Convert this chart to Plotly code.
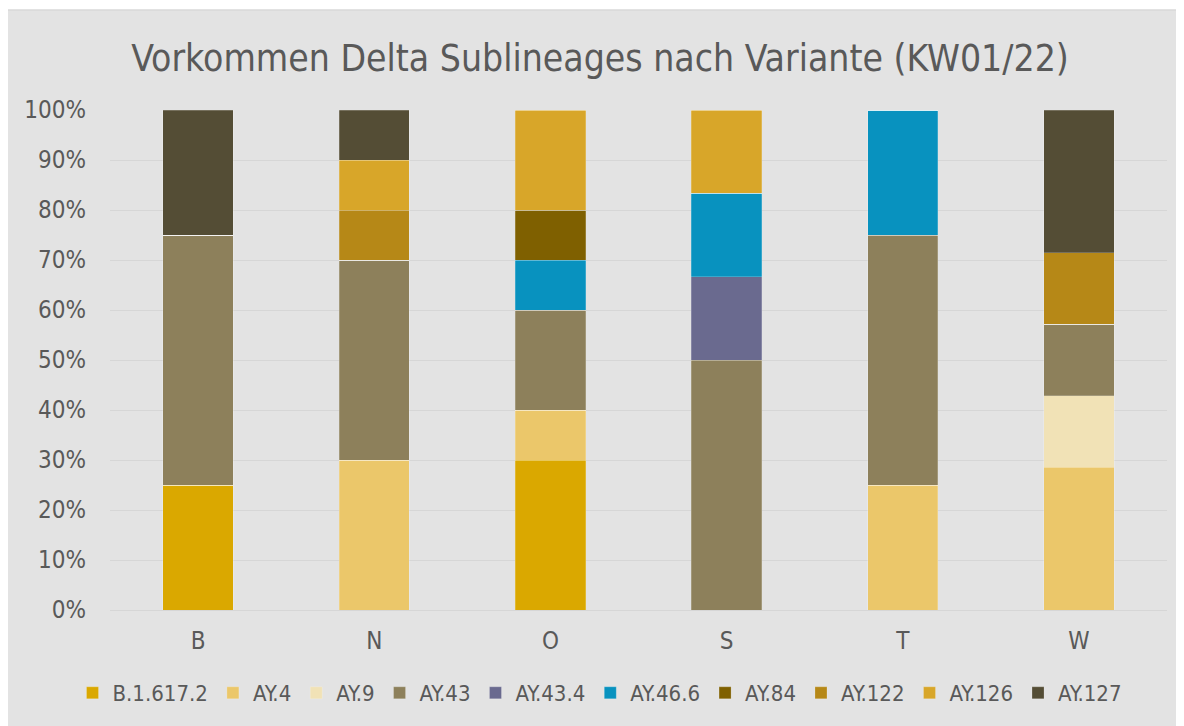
import plotly.graph_objects as go

categories = ["B", "N", "O", "S", "T", "W"]
lineages = ["B.1.617.2", "AY.4", "AY.9", "AY.43", "AY.43.4", "AY.46.6", "AY.84", "AY.122", "AY.126", "AY.127"]
colors = ["#DAA800", "#EBC76A", "#F1E2B6", "#8D805B", "#6A6A8F", "#0892BF", "#7F6000", "#B68817", "#D8A629", "#544D35"]

# shares in percent per category (B, N, O, S, T, W)
b1617_2 = [25, 0, 30, 0, 0, 0]
ay4 = [0, 30, 10, 0, 25, 28.57]
ay9 = [0, 0, 0, 0, 0, 14.29]
ay43 = [50, 40, 20, 50, 50, 14.29]
ay43_4 = [0, 0, 0, 16.67, 0, 0]
ay46_6 = [0, 0, 10, 16.67, 25, 0]
ay84 = [0, 0, 10, 0, 0, 0]
ay122 = [0, 10, 0, 0, 0, 14.29]
ay126 = [0, 10, 20, 16.67, 0, 0]
ay127 = [25, 10, 0, 0, 0, 28.57]

series = [b1617_2, ay4, ay9, ay43, ay43_4, ay46_6, ay84, ay122, ay126, ay127]

FONT = "DejaVu Sans Condensed, DejaVu Sans"

fig = go.Figure()
for name, vals, col in zip(lineages, series, colors):
    fig.add_trace(go.Bar(
        x=categories, y=vals, name=name,
        marker=dict(color=col, line=dict(color="rgba(255,255,255,0.25)", width=0.8)),
        hovertemplate="%{x}: %{y:.1f}%<extra>" + name + "</extra>",
    ))

W, H = 1184, 726
OFF = 8  # page body margin
L, T = 110 - OFF, 110 - OFF
R = W - (1167 - OFF)
B = H - (610 - OFF)
pw = W - L - R
ph = H - T - B

fig.update_layout(
    width=W, height=H,
    barmode="stack", barnorm="percent", bargap=0.6,
    paper_bgcolor="white", plot_bgcolor="rgba(0,0,0,0)",
    margin=dict(l=L, r=R, t=T, b=B, pad=0, autoexpand=False),
    title=dict(text="Vorkommen Delta Sublineages nach Variante (KW01/22)",
               x=0.5, xanchor="center", xref="container",
               y=1 - (58 - OFF) / H, yanchor="middle", yref="container",
               font=dict(family=FONT, size=37, color="#595959")),
    font=dict(family=FONT, color="#595959"),
    legend=dict(orientation="h", x=0.5, xanchor="center", xref="container",
                y=1 - (693 - OFF) / H, yanchor="middle", yref="container",
                font=dict(size=22, color="#595959"),
                bgcolor="rgba(0,0,0,0)", itemwidth=30, tracegroupgap=0,
                traceorder="normal"),
    xaxis=dict(tickfont=dict(size=24, color="#595959"), showgrid=False,
               showline=False, ticks="", ticklabelstandoff=14),
    yaxis=dict(range=[0, 100], tickvals=list(range(0, 101, 10)),
               ticktext=[f"{v}%" for v in range(0, 101, 10)],
               tickfont=dict(size=24, color="#595959"),
               showgrid=True, gridcolor="#D6D6D6", gridwidth=1.2,
               zeroline=True, zerolinecolor="#D6D6D6", zerolinewidth=1.2,
               showline=False, ticks="", ticklabelstandoff=23),
    shapes=[dict(type="rect", xref="paper", yref="paper", layer="below",
                 x0=(-3 - L) / pw, x1=(W + 3 - L) / pw,
                 y0=(H - B - (H + 3)) / ph, y1=(H - B - 2) / ph,
                 fillcolor="#E3E3E3", line=dict(color="#D9D9D9", width=1.5))],
)

fig.write_html("out.html")
